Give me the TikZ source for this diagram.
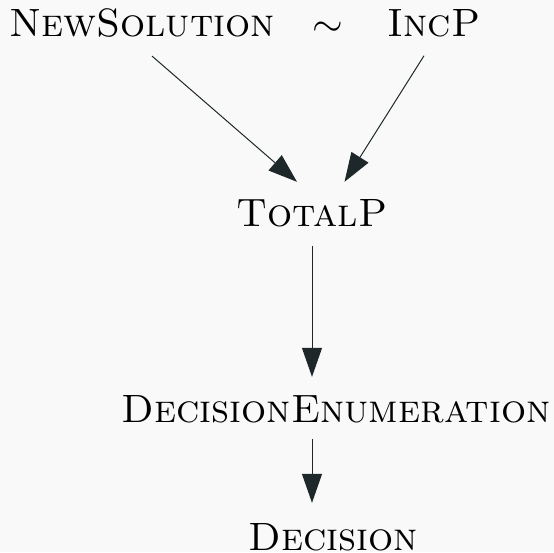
\RequirePackage{fix-cm}
\documentclass[tikz,border=0pt]{standalone}
\usepackage{fontspec}
\usetikzlibrary{arrows.meta,calc,positioning}
\definecolor{bggray}{RGB}{249,249,249}
\definecolor{edgegray}{RGB}{30,40,42}

\begin{document}
\begin{tikzpicture}[x=1pt, y=1pt, >={Triangle[length=29pt,width=20pt]},
    lbl/.style={inner sep=0pt, anchor=base, font=\fontsize{39.5}{47}\selectfont\scshape},
    edge/.style={->, line width=1pt, edgegray}]

\fill[bggray] (0,0) rectangle (554,552);
\useasboundingbox (0,0) rectangle (554,552);

% ==================== TOP ROW ====================
\node[lbl] (newsol) at (142,515) {NewSolution};
\node[lbl] (sim) at (328,515) {$\sim$};
\node[lbl] (incp) at (434,515) {IncP};

% ==================== LOWER NODES ====================
\node[lbl] (totalp) at (312,325) {TotalP};
\node[lbl] (decenum) at (336,130) {DecisionEnumeration};
\node[lbl] (decision) at (333,2) {Decision};

% Edges (18pt gap between text and arrow ends)
\draw[edge] ([shift={(10,-18)}]newsol.south) -- ([shift={(-15,18)}]totalp.north);
\draw[edge] ([shift={(-10,-18)}]incp.south) -- ([shift={(32.5,18)}]totalp.north);
\draw[edge] ([yshift=-18pt]totalp.south) -- ([yshift=18pt]totalp.south |- decenum.north);
\draw[edge] ([yshift=-16pt]decenum.south -| totalp) -- ([yshift=20pt]decision.north -| totalp);

\end{tikzpicture}
\end{document}
